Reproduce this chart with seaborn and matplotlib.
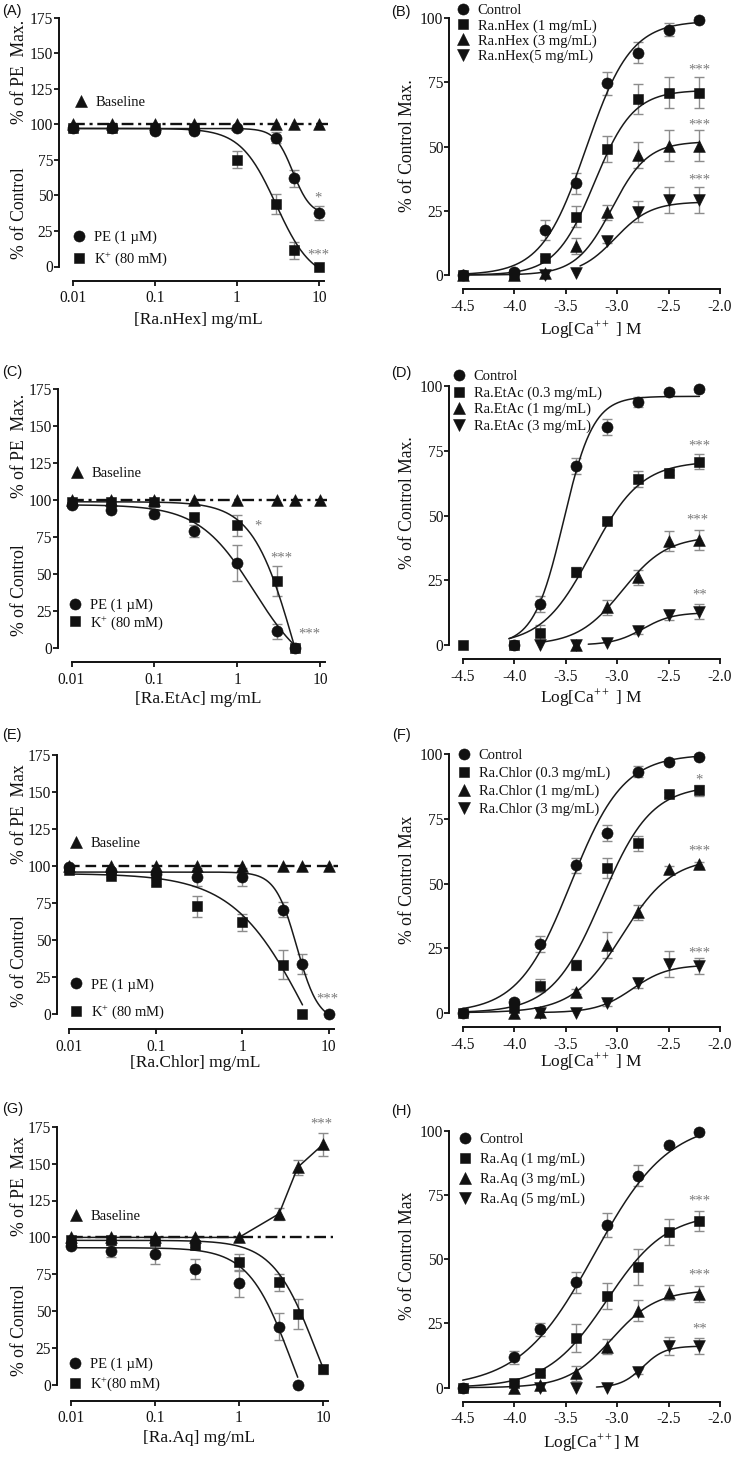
import numpy as np
import pandas as pd
import matplotlib
matplotlib.use("Agg")
import matplotlib.pyplot as plt
import matplotlib.ticker as mticker
import matplotlib.transforms as mtransforms
from matplotlib.lines import Line2D
import seaborn as sns

sns.set_theme(style="ticks")
plt.rcParams["font.family"] = ["Liberation Serif", "DejaVu Serif"]
plt.rcParams["mathtext.fontset"] = "custom"
plt.rcParams["mathtext.rm"] = "Liberation Serif"
plt.rcParams["mathtext.it"] = "Liberation Serif:italic"
plt.rcParams["mathtext.bf"] = "Liberation Serif:bold"
plt.rcParams["axes.unicode_minus"] = False

nan = np.nan

# ------------------------------------------------------------------ data
CONC = [0.01, 0.03, 0.1, 0.3, 1, 3, 5, 10]
LOGCA_B = [-4.5, -4.0, -3.7, -3.4, -3.1, -2.8, -2.5, -2.2]
LOGCA = [-4.5, -4.0, -3.75, -3.4, -3.1, -2.8, -2.5, -2.2]

CONC_TICKS = [0.01, 0.1, 1, 10]
CONC_TICK_LABELS = ["0.01", "0.1", "1", "10"]
LOGCA_TICKS = [-4.5, -4.0, -3.5, -3.0, -2.5, -2.0]
LOGCA_TICK_LABELS = ["-4.5", "-4.0", "-3.5", "-3.0", "-2.5", "-2.0"]
LEFT_YTICKS = [0, 25, 50, 75, 100, 125, 150, 175]
RIGHT_YTICKS = [0, 25, 50, 75, 100]
BASELINE_LEVEL = 100
BASELINE_SPAN = [0.01, 13]

# (A) Ra.nHex on PE / K+
A_BASE = [100, 100, 100, 100, 100, 100, 100, 100]
A_BASE_ERR = [0, 0, 0, 0, 0, 0, 0, 0]
A_PE = [97, 97, 95.5, 95.5, 97, 90.5, 62, 37.5]
A_PE_ERR = [0, 0, 1.5, 1, 1, 4, 6, 5]
A_K = [97, 97, 97, 97, 75, 44, 11.5, 0]
A_K_ERR = [0, 0, 0, 1, 6, 7, 6, 0]
A_PE_FIT = [97, 36, 4.8, 4.0]          # top, bottom, IC50, slope
A_K_FIT = [97, -10, 3.0, 2.0]
A_PE_END = 10
A_K_END = 10
A_STARS = [("*", 9.7, 50.3), ("***", 9.7, 10.5)]

# (B) Ra.nHex on Ca++ curves
B_CTRL = [0, 1.3, 17.5, 35.7, 74.7, 86.6, 95.5, 99.5]
B_CTRL_ERR = [0, 1, 4, 4, 4.5, 4, 2.5, 1]
B_D1 = [0, 0, 6.5, 22.7, 49, 68.6, 71, 71]
B_D1_ERR = [0, 0, 1, 4, 5, 6, 6, 6]
B_D2 = [0, 0, 0.6, 11.3, 24.4, 46.7, 50.4, 50.4]
B_D2_ERR = [0, 0, 0, 3, 3, 5, 6, 6]
B_D3 = [nan, nan, 0, 0.6, 13.4, 24.7, 29.2, 29.2]
B_D3_ERR = [0, 0, 0, 0, 1, 4, 5, 5]
B_FITS = [[99, 0, -3.30, 2.0], [72, 0, -3.22, 2.3], [52, 0, -3.05, 2.5], [28.5, 0, -3.02, 2.5]]
B_STARTS = [-4.5, -4.5, -4.5, -3.36]
B_STARS = [("***", -2.2, 81), ("***", -2.2, 59.7), ("***", -2.2, 38.3)]
B_LABELS = ["Control", "Ra.nHex (1 mg/mL)", "Ra.nHex (3 mg/mL)", "Ra.nHex(5 mg/mL)"]

# (C) Ra.EtAc on PE / K+
C_BASE = [100, 100, 100, 100, 100, 100, 100, 100]
C_BASE_ERR = [0, 0, 0, 0, 0, 0, 0, 0]
C_PE = [96.5, 93.5, 91, 79.5, 57.5, 11.5, 0, nan]
C_PE_ERR = [1, 1, 3, 4, 12, 5, 0, 0]
C_K = [99, 99, 99, 89, 83, 45.5, 0, nan]
C_K_ERR = [0, 0, 0, 2, 7, 10, 0, 0]
C_PE_FIT = [97, -20, 1.6, 1.3]
C_K_FIT = [99, -100, 5.0, 1.7]
C_PE_END = 5
C_K_END = 5
C_STARS = [("*", 1.79, 84.5), ("***", 3.43, 63), ("***", 7.4, 12)]

# (D) Ra.EtAc on Ca++ curves
D_CTRL = [nan, 0, 15.8, 69.1, 84.2, 93.9, 97.8, 98.7]
D_CTRL_ERR = [0, 0, 3, 3, 3, 2, 1, 1]
D_D1 = [0, 0, 4.8, 28.3, 47.9, 64, 66.5, 70.8]
D_D1_ERR = [0, 0, 3, 2, 1, 3, 1, 3]
D_D2 = [nan, nan, nan, 0, 14.5, 26.1, 40.2, 40.5]
D_D2_ERR = [0, 0, 0, 0, 3, 3, 4, 4]
D_D3 = [nan, nan, 0, 0, 0.6, 5.4, 11.6, 12.9]
D_D3_ERR = [0, 0, 0, 0, 0, 1, 2, 3]
D_FITS = [[96, 0, -3.52, 3.0], [71, 0, -3.25, 1.8], [42, 0, -2.95, 2.0], [12.5, 0, -2.75, 3.0]]
D_STARTS = [-4.05, -4.05, -3.75, -3.28]
D_STARS = [("***", -2.2, 78), ("***", -2.22, 49.3), ("**", -2.2, 20.6)]
D_LABELS = ["Control", "Ra.EtAc (0.3 mg/mL)", "Ra.EtAc (1 mg/mL)", "Ra.EtAc (3 mg/mL)"]

# (E) Ra.Chlor on PE / K+
E_BASE = [100, 100, 100, 100, 100, 100, 100, 100]
E_BASE_ERR = [0, 0, 0, 0, 0, 0, 0, 0]
E_PE = [99.5, 97, 94.5, 92.5, 92.5, 70.5, 34, 0]
E_PE_ERR = [0, 0, 0, 6, 6, 5, 7, 0]
E_K = [97.5, 93.5, 89, 73, 62, 33.5, 0, nan]
E_K_ERR = [0, 1, 2, 7, 6, 10, 0, 0]
E_PE_FIT = [96, -5, 4.3, 3.5]
E_K_FIT = [95, -100, 6.0, 1.0]
E_PE_END = 10
E_K_END = 5
E_STARS = [("***", 9.7, 12.4)]

# (F) Ra.Chlor on Ca++ curves
F_CTRL = [0, 4.3, 26.5, 57, 69.5, 93.3, 97.2, 99.1]
F_CTRL_ERR = [0, 1, 3, 3, 3, 2, 1, 1]
F_D1 = [0, 1.7, 10.5, 18.5, 56, 65.5, 84.6, 86]
F_D1_ERR = [0, 0, 2.5, 2, 4, 3, 1, 2]
F_D2 = [nan, 0, 0.4, 8.1, 26.2, 38.8, 55.6, 57.5]
F_D2_ERR = [0, 0, 0, 1, 5, 3, 1, 1]
F_D3 = [nan, nan, 0, 0, 3.6, 11.4, 18.7, 18.1]
F_D3_ERR = [0, 0, 0, 0, 1, 2, 5, 3]
F_FITS = [[100, 0, -3.45, 1.7], [88, 0, -3.15, 1.8], [60, 0, -2.95, 1.8], [18.5, 0, -2.85, 2.5]]
F_STARTS = [-4.5, -4.5, -4.5, -3.75]
F_STARS = [("*", -2.2, 91.3), ("***", -2.2, 63.6), ("***", -2.2, 24.3)]
F_LABELS = ["Control", "Ra.Chlor (0.3 mg/mL)", "Ra.Chlor (1 mg/mL)", "Ra.Chlor (3 mg/mL)"]

# (G) Ra.Aq on PE / K+
G_BASE = [100, 100, 100, 100, 100, 116, 147.5, 163]
G_BASE_ERR = [0, 0, 0, 0, 0, 4, 5, 8]
G_PE = [94.5, 91, 88.7, 78.6, 68.8, 39.5, 0, nan]
G_PE_ERR = [1, 4, 7, 7, 9, 9, 0, 0]
G_K = [98, 98, 97.7, 94.8, 83, 69.5, 48, 10.6]
G_K_ERR = [0, 0, 1, 1, 6, 6, 10, 3]
G_PE_FIT = [93, -60, 4.2, 1.7]
G_K_FIT = [98, -50, 8.2, 1.7]
G_PE_END = 5
G_K_END = 10
G_STARS = [("***", 9.6, 179)]

# (H) Ra.Aq on Ca++ curves
H_CTRL = [0, 11.8, 22.8, 41, 63.3, 82.5, 94.4, 99.6]
H_CTRL_ERR = [0, 2.5, 2.5, 4, 4.5, 4, 1, 1]
H_D1 = [0, 1.7, 5.8, 19.2, 35.8, 47.1, 60.7, 64.8]
H_D1_ERR = [0, 1, 1, 5.5, 5, 7, 5, 4]
H_D2 = [nan, 0, 1, 5.6, 16, 30, 37, 36.4]
H_D2_ERR = [0, 0, 0, 3, 3, 4, 3, 3]
H_D3 = [nan, nan, 0, 0, 0, 6.2, 16.3, 16.3]
H_D3_ERR = [0, 0, 0, 0, 0, 1, 3.5, 3]
H_FITS = [[104, 0, -3.22, 1.2], [68, 0, -3.10, 1.5], [38, 0, -3.05, 2.0], [16.2, 0, -2.75, 4.0]]
H_STARTS = [-4.5, -4.5, -4.5, -3.2]
H_STARS = [("***", -2.2, 74), ("***", -2.2, 45), ("**", -2.2, 24)]
H_LABELS = ["Control", "Ra.Aq (1 mg/mL)", "Ra.Aq (3 mg/mL)", "Ra.Aq (5 mg/mL)"]

# ------------------------------------------------------------------ style
W, H = 737, 1457
DPI = 100
INK = "#111111"
ERR = "#8c8c8c"
STAR = "#7a7a7a"
MARKERS = ["o", "s", "^", "v"]
SIZES = [64, 60, 72, 72]
FS_TICK = 11.2
FS_XLAB = 12.5
FS_YLAB = 12.7
FS_LEG = 10.5

fig = plt.figure(figsize=(W / DPI, H / DPI), dpi=DPI)


def fx(px):
    return px / W


def fy(py):
    return 1 - py / H


def make_axes(xref, xspan, yref, yspan, xlog):
    v1, p1, v2, p2 = xref
    t = np.log10 if xlog else (lambda v: v)
    sx = (p2 - p1) / (t(v2) - t(v1))
    xl = t(v1) + (xspan[0] - p1) / sx
    xr = t(v1) + (xspan[1] - p1) / sx
    if xlog:
        xl, xr = 10 ** xl, 10 ** xr
    w1, q1, w2, q2 = yref
    sy = (q2 - q1) / (w2 - w1)
    yb = w1 + (yspan[0] - q1) / sy
    yt = w1 + (yspan[1] - q1) / sy
    ax = fig.add_axes([fx(xspan[0]), fy(yspan[0]),
                       (xspan[1] - xspan[0]) / W, (yspan[0] - yspan[1]) / H])
    if xlog:
        ax.set_xscale("log")
    ax.set_xlim(xl, xr)
    ax.set_ylim(yb, yt)
    return ax


def style_axes(ax, xticks, xlabels, xbounds, yticks, ybounds):
    sns.despine(ax=ax)
    ax.set_facecolor("none")
    ax.grid(False)
    ax.set_xticks(xticks)
    ax.set_xticklabels(xlabels)
    ax.xaxis.set_minor_locator(mticker.NullLocator())
    ax.set_yticks(yticks)
    ax.set_yticklabels([str(v) for v in yticks])
    ax.spines["bottom"].set_bounds(*xbounds)
    ax.spines["left"].set_bounds(*ybounds)
    for sp in ("bottom", "left"):
        ax.spines[sp].set_linewidth(1.4)
        ax.spines[sp].set_color(INK)
    ax.tick_params(axis="both", direction="out", length=3.6, width=1.3, color=INK,
                   labelsize=FS_TICK, labelcolor=INK)
    ax.tick_params(axis="y", pad=0.5)
    ax.tick_params(axis="x", pad=3.3)


def hill_conc(x, p):
    top, bottom, ic50, n = p
    return bottom + (top - bottom) / (1 + (x / ic50) ** n)


def hill_log(x, p):
    top, bottom, logec, n = p
    return bottom + (top - bottom) / (1 + 10 ** ((logec - x) * n))


def draw_points(ax, x, y, err, marker, size):
    df = pd.DataFrame({"x": x, "y": y, "err": err}).dropna(subset=["y"])
    e = df[df["err"] > 0]
    if len(e):
        ax.errorbar(e["x"], e["y"], yerr=e["err"], fmt="none", ecolor=ERR,
                    elinewidth=1.0, capsize=3.5, capthick=1.0, zorder=2)
    sns.scatterplot(data=df, x="x", y="y", marker=marker, s=size, color=INK,
                    edgecolor=INK, linewidth=0.4, ax=ax, zorder=5, legend=False)


def draw_curve(ax, xs, ys):
    keep = ys >= 0
    sns.lineplot(x=xs[keep], y=ys[keep], ax=ax, color="#1a1a1a", linewidth=1.1,
                 sort=False, estimator=None, zorder=3)


def stars(ax, items):
    for txt, x, y in items:
        ax.annotate(txt, xy=(x, y), xytext=(0, -4.8), textcoords="offset points",
                    ha="center", va="baseline", fontsize=10.5, color=STAR, zorder=6)


def handle(marker, size):
    return Line2D([], [], marker=marker, linestyle="none", color=INK,
                  markersize=np.sqrt(size), markeredgewidth=0.4)


def legend_at(ax, handles, labels, cx, cy, pitch):
    fs_px = FS_LEG * DPI / 72
    spacing = max((pitch - 1.0 * fs_px) / fs_px, 0.0)
    leg = ax.legend(handles, labels, loc="center left",
                    bbox_to_anchor=(fx(cx - 0.4 * fs_px), fy(cy)),
                    bbox_transform=fig.transFigure, frameon=False, fontsize=FS_LEG,
                    handlelength=0.8, handletextpad=0.6, labelspacing=spacing,
                    borderpad=0, borderaxespad=0)
    for t in leg.get_texts():
        t.set_color(INK)
    return leg


def panel_letter(txt, px, py):
    fig.text(fx(px), fy(py), txt, ha="left", va="center", fontsize=10.5,
             family=["Liberation Sans", "DejaVu Sans"], color=INK)


# ------------------------------------------------------------------ left panels
LEFT = [
    dict(letter="(A)", lpos=(2, 11),
         xref=(0.01, 73, 10, 319), xspan=(59, 345), yref=(0, 266.5, 175, 17.5), yspan=(280.5, 6),
         base=A_BASE, base_err=A_BASE_ERR, pe=A_PE, pe_err=A_PE_ERR, k=A_K, k_err=A_K_ERR,
         pe_fit=A_PE_FIT, k_fit=A_K_FIT, pe_end=A_PE_END, k_end=A_K_END, stars=A_STARS,
         ls=(0, (5, 2, 1.3, 2)), base_line=False,
         ylab_top="% of PE  Max.", ylab_top_y=137, ylab_bot_y=37.5,
         xlabel="[Ra.nHex] mg/mL", xlab_pos=(198, 320),
         base_leg=(81, 102), leg=(79, 249.5), pitch=21, klabel="K$^{+}$ (80 mM)"),
    dict(letter="(C)", lpos=(2, 372),
         xref=(0.01, 71.5, 1, 237.3), xspan=(57.5, 345), yref=(0, 648.3, 175, 389.3), yspan=(662, 378),
         base=C_BASE, base_err=C_BASE_ERR, pe=C_PE, pe_err=C_PE_ERR, k=C_K, k_err=C_K_ERR,
         pe_fit=C_PE_FIT, k_fit=C_K_FIT, pe_end=C_PE_END, k_end=C_K_END, stars=C_STARS,
         ls=(0, (5, 2, 1.3, 2)), base_line=False,
         ylab_top="% of PE  Max.", ylab_top_y=137, ylab_bot_y=39,
         xlabel="[Ra.EtAc] mg/mL", xlab_pos=(198, 699),
         base_leg=(77, 473), leg=(75, 615), pitch=16.7, klabel="K$^{+}$ (80 mM)"),
    dict(letter="(E)", lpos=(2, 735),
         xref=(0.01, 69.3, 10, 328.5), xspan=(57, 350), yref=(0, 1014.3, 175, 755), yspan=(1029, 745),
         base=E_BASE, base_err=E_BASE_ERR, pe=E_PE, pe_err=E_PE_ERR, k=E_K, k_err=E_K_ERR,
         pe_fit=E_PE_FIT, k_fit=E_K_FIT, pe_end=E_PE_END, k_end=E_K_END, stars=E_STARS,
         ls=(0, (4.5, 2.5)), base_line=False,
         ylab_top="% of PE  Max", ylab_top_y=135, ylab_bot_y=36,
         xlabel="[Ra.Chlor] mg/mL", xlab_pos=(195, 1063),
         base_leg=(76, 843), leg=(76, 999.5), pitch=26.5, klabel="K$^{+}$ (80 mM)"),
    dict(letter="(G)", lpos=(2, 1109),
         xref=(0.01, 71, 10, 323), xspan=(57, 345), yref=(0, 1385, 175, 1126.7), yspan=(1400.7, 1110),
         base=G_BASE, base_err=G_BASE_ERR, pe=G_PE, pe_err=G_PE_ERR, k=G_K, k_err=G_K_ERR,
         pe_fit=G_PE_FIT, k_fit=G_K_FIT, pe_end=G_PE_END, k_end=G_K_END, stars=G_STARS,
         ls=(0, (5, 2, 1.3, 2)), base_line=True,
         ylab_top="% of PE  Max", ylab_top_y=135, ylab_bot_y=37.5,
         xlabel="[Ra.Aq] mg/mL", xlab_pos=(199, 1438),
         base_leg=(76, 1216), leg=(75, 1375.5), pitch=19, klabel="K$^{+}$(80 mM)"),
]

for P in LEFT:
    ax = make_axes(P["xref"], P["xspan"], P["yref"], P["yspan"], xlog=True)
    style_axes(ax, CONC_TICKS, CONC_TICK_LABELS, (0.01, 11.5), LEFT_YTICKS, (0, 175))
    ax.plot(BASELINE_SPAN, [BASELINE_LEVEL, BASELINE_LEVEL], color=INK, linewidth=1.7,
            linestyle=P["ls"], zorder=1)
    if P["base_line"]:
        sns.lineplot(x=CONC, y=P["base"], ax=ax, color="#1a1a1a", linewidth=1.1,
                     sort=False, estimator=None, zorder=3)
    for fit, end in ((P["pe_fit"], P["pe_end"]), (P["k_fit"], P["k_end"])):
        xs = np.geomspace(0.01, end, 300)
        draw_curve(ax, xs, hill_conc(xs, fit))
    draw_points(ax, CONC, P["pe"], P["pe_err"], "o", SIZES[0])
    draw_points(ax, CONC, P["k"], P["k_err"], "s", SIZES[1])
    draw_points(ax, CONC, P["base"], P["base_err"], "^", SIZES[2])
    stars(ax, P["stars"])
    ax.set_xlabel(P["xlabel"], fontsize=FS_XLAB, color=INK)
    ax.xaxis.set_label_coords(fx(P["xlab_pos"][0]), fy(P["xlab_pos"][1]), transform=fig.transFigure)
    ax.xaxis.label.set_va("center")
    ax.set_ylabel("")
    blend = mtransforms.blended_transform_factory(fig.transFigure, ax.transData)
    ax.text(fx(19.5), P["ylab_top_y"], P["ylab_top"], transform=blend, rotation=90,
            ha="center", va="center", fontsize=FS_YLAB, color=INK)
    ax.text(fx(19.5), P["ylab_bot_y"], "% of Control", transform=blend, rotation=90,
            ha="center", va="center", fontsize=FS_YLAB, color=INK)
    leg1 = legend_at(ax, [handle("^", SIZES[2])], ["Baseline"], P["base_leg"][0], P["base_leg"][1], 16)
    ax.add_artist(leg1)
    legend_at(ax, [handle("o", SIZES[0]), handle("s", SIZES[1])],
              ["PE (1 µM)", P["klabel"]], P["leg"][0], P["leg"][1], P["pitch"])
    panel_letter(P["letter"], *P["lpos"])

# ------------------------------------------------------------------ right panels
RIGHT = [
    dict(letter="(B)", lpos=(391, 12), x=LOGCA_B, yref=(0, 275, 100, 18.3), yspan=(289, 4),
         series=[(B_CTRL, B_CTRL_ERR), (B_D1, B_D1_ERR), (B_D2, B_D2_ERR), (B_D3, B_D3_ERR)],
         fits=B_FITS, starts=B_STARTS, stars=B_STARS, labels=B_LABELS,
         ylabel="% of Control Max.", ylab_y=50.5, xlabel="Log[Ca$^{++}$ ] M", xlab_pos=(591, 330),
         leg=(463, 33.5), pitch=16.3),
    dict(letter="(D)", lpos=(391, 373), x=LOGCA, yref=(0, 645, 100, 386), yspan=(659, 370),
         series=[(D_CTRL, D_CTRL_ERR), (D_D1, D_D1_ERR), (D_D2, D_D2_ERR), (D_D3, D_D3_ERR)],
         fits=D_FITS, starts=D_STARTS, stars=D_STARS, labels=D_LABELS,
         ylabel="% of Control Max.", ylab_y=55, xlabel="Log[Ca$^{++}$ ] M", xlab_pos=(591, 698),
         leg=(459, 401.5), pitch=17.7),
    dict(letter="(F)", lpos=(392, 735), x=LOGCA, yref=(0, 1012.7, 100, 754.3), yspan=(1027, 740),
         series=[(F_CTRL, F_CTRL_ERR), (F_D1, F_D1_ERR), (F_D2, F_D2_ERR), (F_D3, F_D3_ERR)],
         fits=F_FITS, starts=F_STARTS, stars=F_STARS, labels=F_LABELS,
         ylabel="% of Control Max", ylab_y=51.5, xlabel="Log[Ca$^{++}$ ] M", xlab_pos=(591, 1062),
         leg=(464, 782.5), pitch=19),
    dict(letter="(H)", lpos=(391, 1111), x=LOGCA, yref=(0, 1387.7, 100, 1130.7), yspan=(1401.7, 1115),
         series=[(H_CTRL, H_CTRL_ERR), (H_D1, H_D1_ERR), (H_D2, H_D2_ERR), (H_D3, H_D3_ERR)],
         fits=H_FITS, starts=H_STARTS, stars=H_STARS, labels=H_LABELS,
         ylabel="% of Control Max", ylab_y=51.5, xlabel="Log[Ca$^{++}$] M", xlab_pos=(592, 1443),
         leg=(465, 1169.5), pitch=21),
]

for P in RIGHT:
    ax = make_axes((-4.5, 462.7, -2.0, 720), (449, 732), P["yref"], P["yspan"], xlog=False)
    style_axes(ax, LOGCA_TICKS, LOGCA_TICK_LABELS, (-4.5, -2.0), RIGHT_YTICKS, (0, 100))
    for fit, start in zip(P["fits"], P["starts"]):
        xs = np.linspace(start, -2.2, 300)
        draw_curve(ax, xs, hill_log(xs, fit))
    for (vals, errs), m, s in zip(P["series"], MARKERS, SIZES):
        draw_points(ax, P["x"], vals, errs, m, s)
    stars(ax, P["stars"])
    ax.set_xlabel(P["xlabel"], fontsize=FS_XLAB, color=INK)
    ax.xaxis.set_label_coords(fx(P["xlab_pos"][0]), fy(P["xlab_pos"][1]), transform=fig.transFigure)
    ax.xaxis.label.set_va("center")
    ax.set_ylabel("")
    blend = mtransforms.blended_transform_factory(fig.transFigure, ax.transData)
    ax.text(fx(407), P["ylab_y"], P["ylabel"], transform=blend, rotation=90,
            ha="center", va="center", fontsize=FS_YLAB, color=INK)
    legend_at(ax, [handle(m, s) for m, s in zip(MARKERS, SIZES)], P["labels"],
              P["leg"][0], P["leg"][1], P["pitch"])
    panel_letter(P["letter"], *P["lpos"])

fig.savefig("out.png", dpi=DPI, facecolor="white")
